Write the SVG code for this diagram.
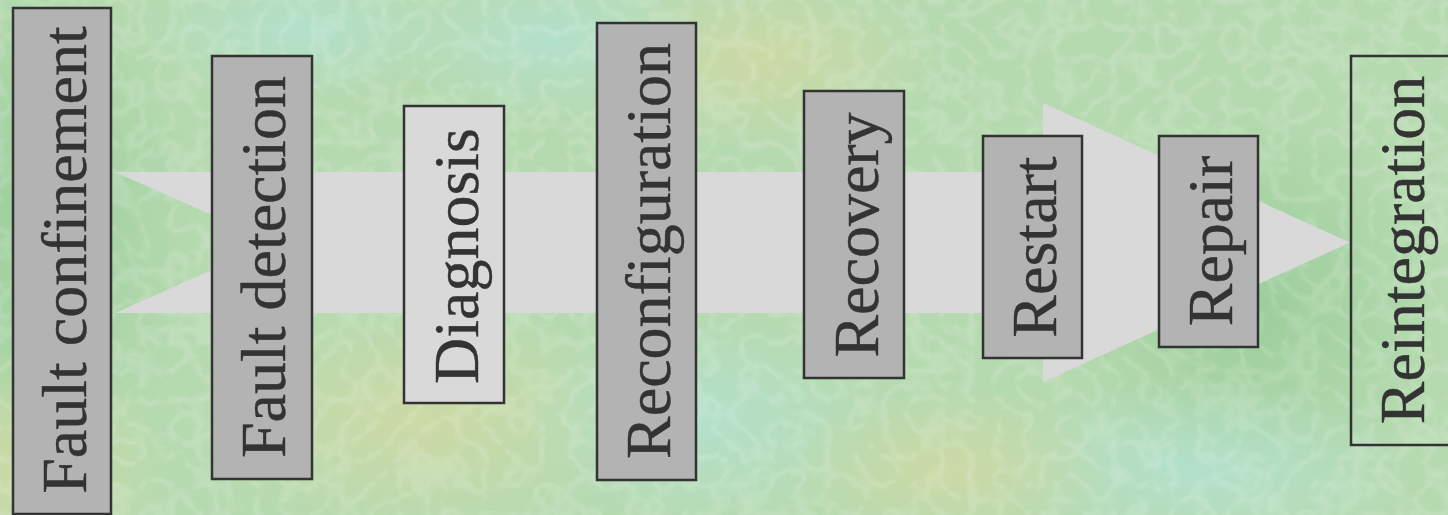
<svg xmlns="http://www.w3.org/2000/svg" width="1448" height="515" viewBox="0 0 1448 515">
  <defs>
    <style>
      .box { fill: #b3b3b3; stroke: #333333; stroke-width: 2.5; }
      .box-light { fill: #d9d9d9; stroke: #333333; stroke-width: 2.5; }
      .box-open { fill: none; stroke: #333333; stroke-width: 2.5; }
      .flow { fill: #d9d9d9; }
      .label { font-family: "Liberation Serif", "Times New Roman", serif; font-size: 64px; fill: #333333; text-anchor: middle; stroke: #333333; stroke-width: 0.4; }
    </style>
    <radialGradient id="g1" cx="0.5" cy="0.5" r="0.5">
      <stop offset="0" stop-color="#98cc98" stop-opacity="0.9"/>
      <stop offset="1" stop-color="#98cc98" stop-opacity="0"/>
    </radialGradient>
    <radialGradient id="g2" cx="0.5" cy="0.5" r="0.5">
      <stop offset="0" stop-color="#cfd9a4" stop-opacity="0.9"/>
      <stop offset="1" stop-color="#cfd9a4" stop-opacity="0"/>
    </radialGradient>
    <radialGradient id="g3" cx="0.5" cy="0.5" r="0.5">
      <stop offset="0" stop-color="#b3e2d2" stop-opacity="0.8"/>
      <stop offset="1" stop-color="#b3e2d2" stop-opacity="0"/>
    </radialGradient>
    <filter id="tex" x="0" y="0" width="100%" height="100%">
      <feTurbulence type="turbulence" baseFrequency="0.035" numOctaves="2" seed="7" result="n"/>
      <feColorMatrix in="n" type="matrix" values="0 0 0 0 1  0 0 0 0 1  0 0 0 0 1  -4 0 0 0 1.1"/>
    </filter>
  </defs>

  <g id="background">
    <rect x="0" y="0" width="1448" height="515" fill="#b6dab0"/>
    <ellipse cx="40" cy="220" rx="160" ry="260" fill="url(#g1)"/>
    <ellipse cx="20" cy="470" rx="150" ry="120" fill="url(#g2)"/>
    <ellipse cx="420" cy="420" rx="220" ry="120" fill="url(#g2)"/>
    <ellipse cx="760" cy="60" rx="180" ry="90" fill="url(#g2)"/>
    <ellipse cx="550" cy="40" rx="160" ry="80" fill="url(#g3)"/>
    <ellipse cx="700" cy="420" rx="180" ry="110" fill="url(#g3)"/>
    <ellipse cx="1250" cy="300" rx="200" ry="200" fill="url(#g1)"/>
    <ellipse cx="1200" cy="470" rx="220" ry="90" fill="url(#g3)"/>
    <ellipse cx="950" cy="470" rx="160" ry="80" fill="url(#g2)"/>
    <ellipse cx="300" cy="30" rx="160" ry="70" fill="url(#g3)"/>
    <rect x="0" y="0" width="1448" height="515" filter="url(#tex)" opacity="0.15"/>
  </g>

  <g id="connectors">
    <polygon id="flow-arrow" class="flow" points="115,172 1043,172 1043,103 1350,242.5 1043,382 1043,313 115,313 274,242.5"/>
  </g>

  <g id="fault-confinement">
    <rect class="box" x="13" y="8" width="98" height="506"/>
    <text class="label" transform="translate(86,260) rotate(-90)">Fault confinement</text>
  </g>
  <g id="fault-detection">
    <rect class="box" x="212" y="56" width="100" height="423"/>
    <text class="label" transform="translate(285,267) rotate(-90)">Fault detection</text>
  </g>
  <g id="diagnosis">
    <rect class="box-light" x="404" y="106" width="100" height="297"/>
    <text class="label" transform="translate(478,256) rotate(-90)">Diagnosis</text>
  </g>
  <g id="reconfiguration">
    <rect class="box" x="597" y="23" width="99" height="457"/>
    <text class="label" transform="translate(670,251) rotate(-90)">Reconfiguration</text>
  </g>
  <g id="recovery">
    <rect class="box" x="804" y="91" width="100" height="287"/>
    <text class="label" transform="translate(878,235) rotate(-90)">Recovery</text>
  </g>
  <g id="restart">
    <rect class="box" x="983" y="136" width="99" height="222"/>
    <text class="label" transform="translate(1056,247) rotate(-90)">Restart</text>
  </g>
  <g id="repair">
    <rect class="box" x="1159" y="136" width="99" height="211"/>
    <text class="label" transform="translate(1232,241) rotate(-90)">Repair</text>
  </g>
  <g id="reintegration">
    <rect class="box-open" x="1351" y="56" width="110" height="389"/>
    <text class="label" transform="translate(1424,250) rotate(-90)">Reintegration</text>
  </g>
</svg>
